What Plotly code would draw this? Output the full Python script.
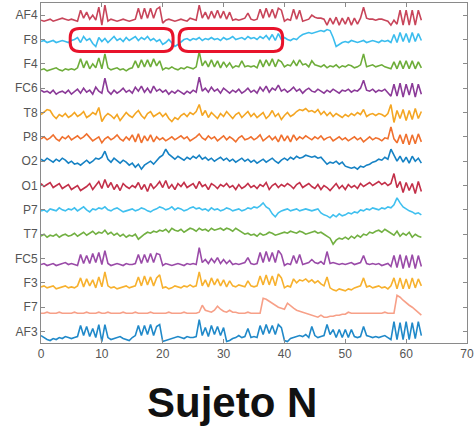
import plotly.graph_objects as go

# sampling instants (s)
TIME = [i * 0.5 for i in range(126)]

# channel labels, top to bottom
CHANNELS = ["AF4", "F8", "F4", "FC6", "T8", "P8", "O2", "O1", "P7", "T7", "FC5", "F3", "F7", "AF3"]

AF4 = [-5,-6,-5,-4,-6,-5,-4,-3,-4,-5, -4,-5,-6,5,-3,3,-4,0,-5,8, -10,10,-6,-4,-5,-6,-5,-4,-5,-6,
       -5,-4,7,-4,7,-3,7,-3,6,8, -8,-5,-4,-5,-6,-5,-4,-5,-6,-3, -4,-5,10,-3,3,-4,4,-3,5,-3,
       4,-4,3,-5,-4,-5,-4,-3,2,-4, -5,-4,6,-3,7,-2,6,-3,7,5, -6,-4,-5,6,-4,5,-6,-5,-4,0,
       -2,-3,-3,-4,-10,-3,-9,-2,-10,-3, -9,-2,-10,-3,-9,-3,8,-3,-4,-4, -5,-4,-4,-5,-6,-10,-5,-9,5,-10,
       5,-10,5,-10,5,-5]
F8 = [-2,-1,-3,-2,-1,-3,-2,-1,-2,-3, -1,0,2,-3,3,-1,1,-4,-7,2, -2,1,-3,0,3,-1,1,-2,2,-1,
      1,3,-1,2,0,3,-1,1,-2,0, -5,-3,0,-4,-7,-5,-2,0,1,-1, 1,0,2,-1,1,0,2,0,1,-1,
      2,0,1,3,0,1,2,0,3,1, 2,0,3,1,4,0,5,-1,6,0, 2,0,-1,1,0,3,5,6,7,6,
      7,8,9,8,10,9,2,-7,-5,-3, -2,-3,-1,-2,-3,-2,-1,-3,-2,-1, -2,-3,-1,-2,-1,-3,5,-3,7,-2,
      6,-3,7,-2,6,-1]
F4 = [-6,-5,-7,-6,-5,-4,-6,-7,-5,-6, -5,-6,-4,5,-4,3,-5,0,-4,6, -5,10,-4,-6,-5,-4,-6,-5,-7,-5,
      -4,3,-4,4,-3,4,-3,5,-2,3, -6,-4,-5,-3,-5,-6,-4,-5,-3,-4, -5,-3,12,-2,3,-3,4,-3,3,-4,
      2,-3,1,-4,-2,-3,3,-3,-2,-3, -2,-4,4,-3,4,-2,5,-3,4,2, -3,-1,-2,3,-2,4,-1,0,-3,3,
      -1,-2,-3,-1,-4,-2,-3,-1,-4,-2, -3,-1,-2,-4,-3,-1,10,-3,-2,-1, -3,-2,-1,-3,-4,-5,2,-5,3,-5,
      3,-5,3,-5,2,-4]
FC6 = [-2,-4,-3,-5,-2,-6,-4,-3,-5,-2, -6,-3,-1,-5,0,-4,-2,-6,1,-3, -5,10,-3,-6,-2,-5,-3,0,-4,-2,
       -5,1,-3,2,-4,0,-5,2,-3,-1, -4,-2,-6,-3,-5,-2,-4,-6,-3,-5, -2,-4,11,-3,0,-4,1,-3,-1,-5,
       0,-3,-5,-2,-4,-1,-5,-3,0,-4, -2,-5,1,-3,2,-4,0,-2,3,-3, -1,-4,-2,1,-3,-1,-5,-2,0,-3,
       -4,-1,-3,-5,-2,-4,-1,-3,-5,-2, -3,-1,-4,-2,-3,0,8,-2,-3,-1, -4,-2,-3,-1,-5,-8,4,-8,5,-9,
       4,-7,5,-9,4,-6]
T8 = [-2,1,3,2,-3,-6,-2,-4,-1,-5, -3,0,-4,-2,1,-5,-3,0,-2,5, -9,-4,-1,-3,-6,-2,-8,-4,0,-3,
      -5,-1,2,-3,-6,-1,1,-4,-2,0, -4,-1,-6,-9,-5,-7,-3,-1,-4,0, -2,1,8,-3,2,-5,0,-3,-6,-1,
      -4,1,-3,-6,-2,0,-5,-2,1,-4, -1,-5,-2,0,-6,-3,2,-4,-1,-7, -3,0,-4,-2,1,3,2,4,1,2,
      0,3,-2,1,-3,0,-4,-1,-3,-5, -2,-4,-1,-3,0,-2,3,-4,-2,-1, -3,-1,-2,-4,-1,8,-10,2,-6,3,
      -8,2,-7,4,-6,1]
P8 = [-2,0,-3,-1,2,-2,-4,0,-2,1, -3,-1,1,-2,0,3,-1,-4,-2,0, -6,-2,0,-3,-1,2,-2,-4,0,-3,
      2,-5,3,-6,1,-4,2,-5,0,-3, -1,-4,-2,0,-3,-1,1,-2,0,-4, -2,0,3,-1,-3,1,-2,0,-4,-1,
      1,-3,0,-2,-5,-1,1,-3,-2,0, -3,-1,2,-4,-1,1,-3,0,-5,2, -4,1,-5,2,-3,0,-2,1,-1,-3,
      0,-2,1,-3,-1,0,-4,-2,0,-3, -1,-4,-2,0,-3,-1,-5,-2,0,-3, -1,-2,-4,-1,-2,10,-2,-6,2,-7,
      3,-8,2,-7,3,-5]
O2 = [2,0,3,1,-1,2,0,3,1,-2, 0,-3,-2,-4,-1,1,-2,0,3,2, 4,10,2,-1,3,0,-2,1,-1,-4,
      -2,-6,-3,-8,-4,-2,0,-3,1,4, 6,12,7,4,2,5,3,1,4,2, 5,3,6,2,4,1,3,0,2,4,
      1,3,0,2,-1,1,3,0,2,-1, 1,-2,0,2,-1,1,3,0,-2,1, 3,1,4,2,5,3,4,6,5,4,
      5,3,4,0,-3,-1,-2,0,-3,-1, -5,-6,-7,-6,-8,-5,-6,-4,-3,-1, 0,2,1,4,2,12,6,0,5,-1,
      4,-2,5,0,3,-2]
O1 = [2,-1,1,3,-2,0,2,-3,-1,1, -4,-2,0,-5,-3,-1,2,-4,0,4, -3,6,-2,3,-4,1,-5,2,-1,-3,
      0,-2,3,-4,1,-6,2,-3,0,4, -2,5,-3,1,-4,2,-1,3,-2,0, 2,-3,4,-1,1,-4,2,0,-3,1,
      -1,2,-2,0,-4,1,-3,-1,2,-2, 0,-3,1,-1,3,-4,0,2,-2,1, -1,2,0,-3,1,3,-2,0,2,-1,
      -3,1,-4,0,-2,-5,-1,2,-3,0, -4,1,-2,0,-3,2,-1,1,3,0, 2,4,1,3,0,2,12,-2,4,-7,
      3,-5,2,-8,4,-6]
P7 = [-1,0,-2,1,0,-1,2,0,-1,1, 0,2,-1,1,3,0,-2,1,0,2, 1,3,0,-1,1,2,0,-2,-1,0,
      1,-1,0,2,1,-1,-2,0,1,3, 2,0,1,3,0,2,1,-1,0,2, 3,1,2,0,1,-1,2,0,1,-1,
      0,2,1,-1,0,1,-1,0,2,1, 3,2,4,7,3,1,-4,-7,-3,-1, 0,1,-1,0,1,-1,0,1,0,-1,
      0,1,-3,-5,-6,-8,-5,-7,-4,-6, -5,-3,-4,-2,-3,0,-1,1,0,2, 1,0,2,1,3,2,5,12,7,3,
      1,-1,-2,-4,-3,-5]
T7 = [-2,0,-3,-1,-2,0,-3,-1,0,-2, -1,1,-2,0,2,-1,1,3,0,2, 1,4,0,2,-1,1,-2,0,-3,-1,
      -2,0,-5,-2,0,2,1,3,2,4, 3,5,2,6,4,3,5,2,4,6, 5,3,6,4,5,3,6,4,5,6,
      4,6,5,3,6,4,2,0,1,-1, 0,-2,1,-1,0,2,1,-1,0,1, 2,1,3,2,1,3,2,0,1,2,
      3,1,2,0,-2,-4,-10,-6,-4,-5, -3,-5,-2,-4,-1,-3,0,-1,2,1, 3,4,2,5,3,1,-1,3,-2,1,
      -1,2,-3,0,-2,-3]
FC5 = [-6,-5,-7,-6,-5,-7,-6,-5,-4,-6, -5,-6,-7,4,-5,3,-5,5,-4,6, -6,8,-5,-7,-6,-5,-6,-7,-5,-6,
       -6,-5,4,-5,4,-4,5,-4,5,4, -7,-5,-6,-7,-6,-5,-6,-7,-5,-6, -5,-6,11,-4,-1,-5,0,-4,1,-5,
       -1,-5,-2,-6,-5,-6,-5,-4,1,-5, -6,-5,6,-4,7,-3,6,-4,8,4, -7,-5,-6,3,-5,4,-6,-5,-4,-1,
       -4,-5,-3,-6,7,-5,-4,-5,-6,-5, -6,-5,-4,-6,-5,-4,3,-5,-6,-5, -6,-5,-7,-6,-5,-8,3,-9,4,-10,
       3,-9,4,-10,3,-8]
F3 = [-4,-3,-5,-4,-3,-6,-5,-4,-3,-5, -4,-5,-3,5,-4,4,-3,3,-5,6, -4,11,-3,-5,-4,-6,-5,-4,-3,-5,
      -4,-3,6,-3,7,-2,6,-3,5,8, -5,-4,-6,-5,-3,-4,-5,-3,-4,-2, -4,-3,11,-3,3,-4,5,-2,4,-3,
      3,-4,2,-3,-4,-2,-3,-4,2,-3, -4,-3,7,-2,8,-2,7,-3,9,5, -5,-3,-4,4,0,3,2,4,1,3,
      0,2,-1,-3,6,-5,-7,-8,-6,-7, -8,-6,-7,-5,-4,-3,5,-4,-3,-5, -4,-3,-5,-4,-6,-3,5,-6,5,-6,
      4,-6,5,-5,4,-3]
F7 = [-6,-6,-5,-6,-6,-6,-5,-6,-6,-6, -6,-5,-6,-6,-6,-5,-6,-6,-6,-5, -6,-6,-5,-6,-6,-6,-6,-5,-6,-6,
      -6,-5,-6,-6,-6,-6,-5,-6,-6,-6, -6,-6,-5,-6,-6,-6,-6,-5,-6,-6, -6,-6,-5,2,-3,-4,-5,-3,1,-2,
      -4,-5,-3,-5,-5,-6,-6,-6,-5,-6, -6,-6,-6,9,8,6,4,2,0,-1, -2,4,1,-1,-3,-4,-5,-6,-7,-8,
      -9,-10,-8,-10,-10,-9,-9,-8,-8,-7, -7,-5,-6,-6,-6,-6,-6,-6,-6,-6, -6,-6,-6,-5,-6,-6,-6,12,10,7,
      4,2,0,-3,-6,-8]
AF3 = [-4,-6,-8,-9,-7,-8,-6,-7,-5,-6, -7,-6,-5,6,-4,5,-5,3,-6,7, -10,7,-6,-8,-7,-6,-5,-7,-8,-9,
       -6,-4,6,-4,6,-3,7,-4,5,7, -10,-9,-8,-7,-6,-5,-6,-7,-5,-6, -6,-5,12,-4,4,-5,6,-3,5,-4,
       4,-10,-9,-7,-6,-4,-6,-5,3,-6, -5,-6,6,-3,7,-2,6,-3,7,4, -9,-10,-7,-6,-5,-4,-5,-3,-6,5,
       -4,-6,-5,-4,7,-3,2,-6,2,-6, 2,-6,2,-5,-6,-5,5,-4,-5,-6, -5,-6,-5,-4,-6,-8,10,-8,9,-8,
       10,-8,9,-7,10,-4]

SIGNALS = [AF4, F8, F4, FC6, T8, P8, O2, O1, P7, T7, FC5, F3, F7, AF3]
COLORS = ["#C8455A", "#3BBDEE", "#6EAD3A", "#8B3A98", "#F4A623", "#F0702E", "#1682C4",
          "#C33049", "#40C0EF", "#72B042", "#9A4BA8", "#F7B12E", "#F7A088", "#2089C9"]

X_TICKS = [0, 10, 20, 30, 40, 50, 60, 70]
HIGHLIGHT_CHANNEL = "F8"
HIGHLIGHTS = [(4.8, 21.7), (22.7, 39.7)]
TITLE = "Sujeto N"

SPACING = 24.4
n = len(CHANNELS)
offsets = [(n - i) * SPACING for i in range(n)]

fig = go.Figure()
for name, sig, col, off in zip(CHANNELS, SIGNALS, COLORS, offsets):
    fig.add_trace(go.Scatter(x=TIME, y=[off + v for v in sig], mode="lines",
                             line=dict(color=col, width=1.6), name=name,
                             hoverinfo="skip"))

# rounded highlight boxes
hoff = offsets[CHANNELS.index(HIGHLIGHT_CHANNEL)]
y0, y1 = hoff - 12, hoff + 11
rx, ry = 1.5, 9
for a, b in HIGHLIGHTS:
    path = (f"M {a+rx},{y1} L {b-rx},{y1} Q {b},{y1} {b},{y1-ry} L {b},{y0+ry} "
            f"Q {b},{y0} {b-rx},{y0} L {a+rx},{y0} Q {a},{y0} {a},{y0+ry} "
            f"L {a},{y1-ry} Q {a},{y1} {a+rx},{y1} Z")
    fig.add_shape(type="path", path=path, xref="x", yref="y",
                  line=dict(color="#E8132B", width=3))

tickfont = dict(family="Liberation Sans, Arial", size=12, color="#555555")
axis_common = dict(showline=True, linecolor="#8a8a8a", linewidth=1, mirror="ticks",
                   ticks="inside", ticklen=4, tickcolor="#8a8a8a", showgrid=False,
                   zeroline=False, automargin=False, tickfont=tickfont)
fig.update_xaxes(range=[0, 70], tickvals=X_TICKS, ticktext=[str(t) for t in X_TICKS],
                 **axis_common)
fig.update_yaxes(range=[0.53 * SPACING, 14.5 * SPACING], tickvals=offsets, ticktext=CHANNELS,
                 **axis_common)

fig.add_annotation(text=f"<b>{TITLE}</b>", xref="paper", yref="paper", x=0.448, y=-0.176,
                   xanchor="center", yanchor="middle", showarrow=False,
                   font=dict(family="Liberation Sans, Arial", size=42, color="#111111"))

fig.update_layout(width=476, height=427, margin=dict(l=41, r=9, t=3, b=84),
                  plot_bgcolor="white", paper_bgcolor="white", showlegend=False)

fig.write_html("out.html", config={"displayModeBar": False, "staticPlot": True},
               post_script="document.body.style.margin='0';document.body.style.overflow='hidden';")
